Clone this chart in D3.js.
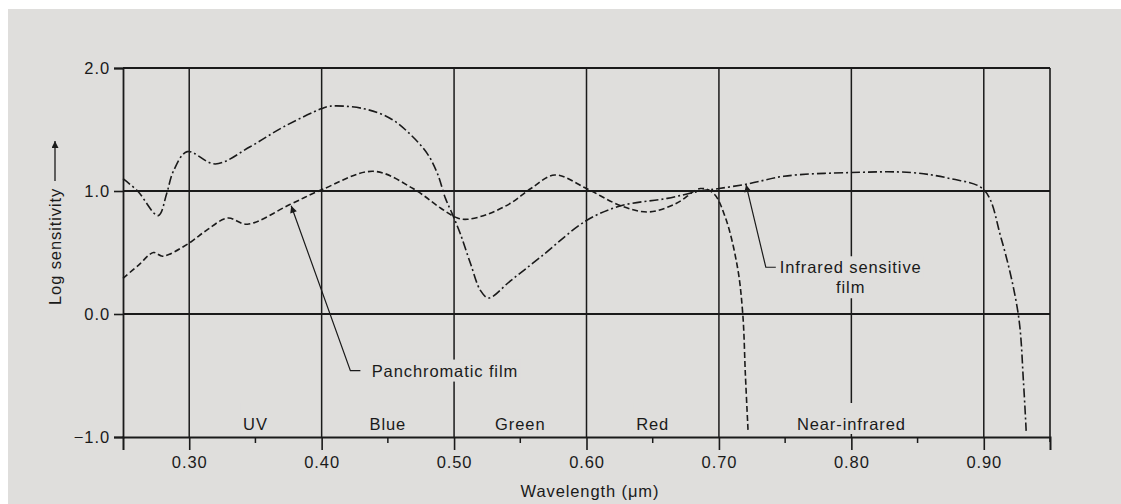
<!DOCTYPE html>
<html>
<head>
<meta charset="utf-8">
<script src="https://cdn.jsdelivr.net/npm/d3@7"></script>
<style>
  body { margin: 0; background: #fff; }
  svg text { letter-spacing: 0.9px; }
</style>
</head>
<body>
<div id="chart"></div>
<script>
// wavelength (um) / log sensitivity
const infraredWl = [0.25, 0.261, 0.2766, 0.283, 0.288, 0.2985, 0.3197, 0.346, 0.371, 0.400, 0.4066, 0.4315, 0.4519, 0.467, 0.480, 0.4875, 0.4935, 0.4988, 0.5048, 0.5124, 0.520, 0.526, 0.5426, 0.565, 0.600, 0.626, 0.661, 0.686, 0.700, 0.723, 0.749, 0.800, 0.845, 0.875, 0.900, 0.913, 0.926, 0.930, 0.932];
const infraredVal = [1.10, 1.00, 0.80, 0.98, 1.16, 1.32, 1.22, 1.36, 1.52, 1.67, 1.69, 1.67, 1.59, 1.46, 1.30, 1.14, 0.94, 0.81, 0.65, 0.41, 0.19, 0.13, 0.27, 0.46, 0.76, 0.88, 0.94, 1.00, 1.02, 1.06, 1.12, 1.15, 1.15, 1.10, 1.01, 0.62, 0.00, -0.56, -0.95];

const panchroWl = [0.25, 0.262, 0.273, 0.280, 0.299, 0.313, 0.329, 0.344, 0.376, 0.400, 0.439, 0.469, 0.490, 0.5026, 0.510, 0.525, 0.5426, 0.558, 0.576, 0.600, 0.626, 0.647, 0.668, 0.686, 0.696, 0.705, 0.714, 0.718, 0.720, 0.722];
const panchroVal = [0.29, 0.40, 0.50, 0.47, 0.57, 0.68, 0.78, 0.73, 0.89, 1.01, 1.16, 1.02, 0.86, 0.78, 0.77, 0.81, 0.90, 1.02, 1.13, 1.02, 0.88, 0.83, 0.90, 1.02, 0.98, 0.78, 0.38, 0.00, -0.50, -0.95];

const xTicks = [0.30, 0.40, 0.50, 0.60, 0.70, 0.80, 0.90];
const xMinor = [0.35, 0.45, 0.55, 0.65, 0.75, 0.85];
const yTicks = [-1.0, 0.0, 1.0, 2.0];
const bands = ['UV', 'Blue', 'Green', 'Red', 'Near-infrared'];
const bandPos = [0.35, 0.45, 0.55, 0.65, 0.80];

const W = 1121, H = 504;
const margin = { t: 68, r: 71, b: 67, l: 123 };
const innerWidth = W - margin.l - margin.r;
const innerHeight = H - margin.t - margin.b;
const ink = '#1a1a1a';
const paper = '#dfdedc';
const font = 'Liberation Sans, Arial, sans-serif';
const fs = 16.5;

const svg = d3.select('#chart').append('svg')
  .attr('width', W)
  .attr('height', H)
  .attr('font-family', font)
  .attr('font-size', fs);

svg.append('rect')
  .attr('x', 8).attr('y', 9)
  .attr('width', W - 8).attr('height', H - 9)
  .attr('fill', paper);

const x = d3.scaleLinear().domain([0.25, 0.95]).range([0, innerWidth]);
const y = d3.scaleLinear().domain([-1, 2]).range([innerHeight, 0]);

const plot = svg.append('g')
  .attr('transform', `translate(${margin.l}, ${margin.t})`);

// grid
plot.selectAll('.vgrid')
  .data(xTicks)
  .enter().append('line')
  .attr('class', 'vgrid')
  .attr('x1', d => x(d)).attr('x2', d => x(d))
  .attr('y1', 0).attr('y2', innerHeight)
  .attr('stroke', ink).attr('stroke-width', 1.5);

plot.selectAll('.hgrid')
  .data([0, 1, 2])
  .enter().append('line')
  .attr('class', 'hgrid')
  .attr('x1', 0).attr('x2', innerWidth)
  .attr('y1', d => y(d)).attr('y2', d => y(d))
  .attr('stroke', ink).attr('stroke-width', 2);

plot.append('line')
  .attr('x1', innerWidth).attr('x2', innerWidth)
  .attr('y1', 0).attr('y2', innerHeight + 5)
  .attr('stroke', ink).attr('stroke-width', 1.6);

// axes
const axisX = d3.axisBottom(x).tickValues(xTicks).tickFormat(d3.format('.2f')).tickSize(13).tickPadding(6);
const gx = plot.append('g')
  .attr('transform', `translate(0, ${innerHeight})`)
  .call(axisX)
  .attr('font-family', font)
  .attr('font-size', fs);
gx.select('.domain').attr('stroke', ink).attr('stroke-width', 2);
gx.selectAll('.tick line').attr('stroke', ink).attr('stroke-width', 1.6);
gx.selectAll('text').attr('fill', ink);

plot.append('g')
  .attr('transform', `translate(0, ${innerHeight})`)
  .selectAll('line')
  .data(xMinor)
  .enter().append('line')
  .attr('x1', d => x(d)).attr('x2', d => x(d))
  .attr('y1', 0).attr('y2', 6)
  .attr('stroke', ink).attr('stroke-width', 1.5);

const axisY = d3.axisLeft(y).tickValues(yTicks)
  .tickFormat(d => d < 0 ? '\u22121.0' : d3.format('.1f')(d))
  .tickSize(9).tickPadding(4);
const gy = plot.append('g').call(axisY)
  .attr('font-family', font)
  .attr('font-size', fs);
gy.select('.domain').attr('stroke', ink).attr('stroke-width', 1.8);
gy.selectAll('.tick line').attr('stroke', ink).attr('stroke-width', 1.6);
gy.selectAll('text').attr('fill', ink);

// band labels (paper coloured box hides the grid behind)
const bandG = plot.selectAll('.band')
  .data(bands)
  .enter().append('g')
  .attr('class', 'band')
  .attr('transform', (d, i) => `translate(${x(bandPos[i])}, ${innerHeight - 7})`);
bandG.append('text')
  .attr('text-anchor', 'middle')
  .attr('fill', ink)
  .text(d => d)
  .each(function() {
    const b = this.getBBox();
    d3.select(this.parentNode).insert('rect', 'text')
      .attr('x', b.x - 3).attr('y', b.y - 12)
      .attr('width', b.width + 6).attr('height', b.height + 13)
      .attr('fill', paper);
  });

// curves
const line = d3.line()
  .x(d => x(d[0]))
  .y(d => y(d[1]))
  .curve(d3.curveCatmullRom.alpha(0.5));

plot.append('path')
  .datum(infraredWl.map((w, i) => [w, infraredVal[i]]))
  .attr('d', line)
  .attr('fill', 'none')
  .attr('stroke', ink)
  .attr('stroke-width', 1.6)
  .attr('stroke-dasharray', '9 3 2 3');

plot.append('path')
  .datum(panchroWl.map((w, i) => [w, panchroVal[i]]))
  .attr('d', line)
  .attr('fill', 'none')
  .attr('stroke', ink)
  .attr('stroke-width', 1.6)
  .attr('stroke-dasharray', '6 3');

// leaders
const defs = svg.append('defs');
defs.append('marker')
  .attr('id', 'head')
  .attr('viewBox', '0 0 10 10')
  .attr('refX', 10).attr('refY', 5)
  .attr('markerWidth', 9).attr('markerHeight', 7)
  .attr('markerUnits', 'userSpaceOnUse')
  .attr('orient', 'auto')
  .append('path')
  .attr('d', 'M0,0L10,5L0,10Z')
  .attr('fill', ink);

function label(tip, elbow, lines, cx, dy) {
  const g = plot.append('g');
  const tx = x(cx);
  const ty = y(elbow[1]);
  const texts = lines.map((s, i) => g.append('text')
    .attr('x', tx).attr('y', ty + 6 + i * dy)
    .attr('text-anchor', 'middle')
    .attr('fill', ink)
    .text(s));
  texts.forEach(t => {
    const b = t.node().getBBox();
    g.insert('rect', 'text')
      .attr('x', b.x - 2).attr('y', b.y - 2)
      .attr('width', b.width + 4).attr('height', b.height + 4)
      .attr('fill', paper);
  });
  g.append('path')
    .attr('d', `M${x(elbow[0]) + 10},${ty}L${x(elbow[0])},${ty}L${x(tip[0])},${y(tip[1])}`)
    .attr('fill', 'none')
    .attr('stroke', ink)
    .attr('stroke-width', 1.2)
    .attr('marker-end', 'url(#head)');
}

label([0.377, 0.88], [0.4217, -0.46], ['Panchromatic film'], 0.4931, 0);
label([0.7205, 1.05], [0.7354, 0.38], ['Infrared sensitive', 'film'], 0.7995, 20);

// axis titles
svg.append('text')
  .attr('x', 590).attr('y', 497)
  .attr('text-anchor', 'middle')
  .attr('fill', ink)
  .text('Wavelength (\u03bcm)');

const yl = svg.append('g').attr('transform', 'translate(61, 305) rotate(-90)');
yl.append('text')
  .attr('x', 0).attr('y', 0)
  .attr('fill', ink)
  .text('Log sensitivity');
yl.append('line')
  .attr('x1', 124).attr('x2', 164)
  .attr('y1', -6).attr('y2', -6)
  .attr('stroke', ink).attr('stroke-width', 1.3)
  .attr('marker-end', 'url(#head)');
</script>
</body>
</html>
